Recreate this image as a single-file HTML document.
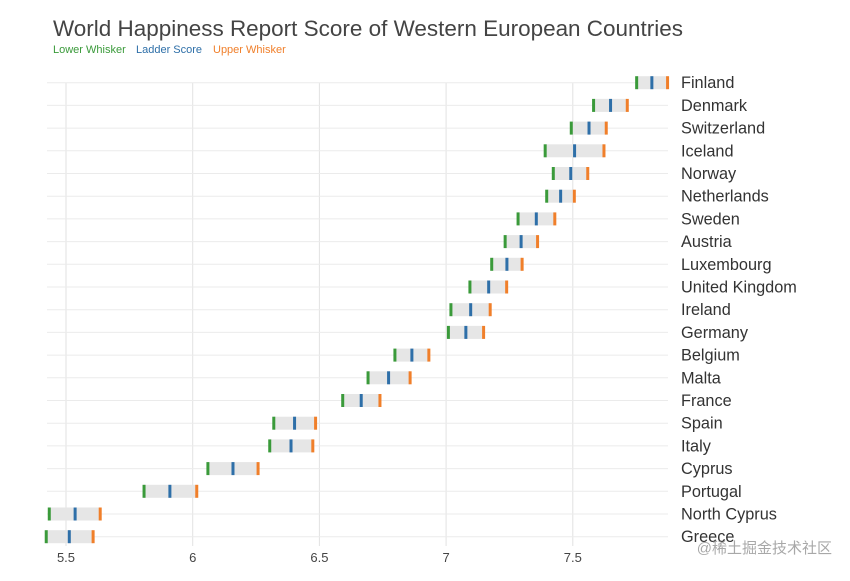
<!DOCTYPE html>
<html><head><meta charset="utf-8"><style>
body{margin:0;background:#fff;width:850px;height:576px;overflow:hidden;font-family:"Liberation Sans","Noto Sans CJK SC",sans-serif;}
</style></head><body>
<svg id="chart" width="850" height="576" xmlns="http://www.w3.org/2000/svg">
<text x="53" y="36" font-size="22" fill="#444" textLength="630" lengthAdjust="spacingAndGlyphs">World Happiness Report Score of Western European Countries</text>
<g font-size="11">
<text x="53" y="53" fill="#3a9a3a">Lower Whisker</text>
<text x="136" y="53" fill="#2e6fa8">Ladder Score</text>
<text x="213" y="53" fill="#f07f2a">Upper Whisker</text>
</g>
<g id="grid"></g>
<g id="marks"></g>
<g id="labels"></g>
<text x="832" y="553" text-anchor="end" font-size="15" fill="#999" opacity="0.85">@稀土掘金技术社区</text>
</svg>
<script>
const countries=["Finland","Denmark","Switzerland","Iceland","Norway","Netherlands","Sweden","Austria","Luxembourg","United Kingdom","Ireland","Germany","Belgium","Malta","France","Spain","Italy","Cyprus","Portugal","North Cyprus","Greece"];
const lower=[7.752,7.582,7.494,7.391,7.423,7.397,7.284,7.233,7.180,7.094,7.019,7.009,6.798,6.692,6.592,6.320,6.304,6.060,5.808,5.434,5.422];
const score=[7.812,7.649,7.564,7.507,7.492,7.452,7.356,7.296,7.240,7.168,7.097,7.078,6.865,6.773,6.665,6.402,6.388,6.159,5.910,5.536,5.513];
const upper=[7.874,7.715,7.632,7.623,7.559,7.506,7.429,7.361,7.300,7.239,7.174,7.148,6.932,6.858,6.739,6.485,6.474,6.258,6.016,5.635,5.607];
const ticks=[5.5,6,6.5,7,7.5];
const tickLabels=["5.5","6","6.5","7","7.5"];
const NS="http://www.w3.org/2000/svg";
const x=v=>66+(v-5.5)*253.4;
const y=i=>82.7+i*22.7;
function mk(t,a,p){const e=document.createElementNS(NS,t);for(const k in a)e.setAttribute(k,a[k]);p.appendChild(e);return e;}
const grid=document.getElementById('grid'),marks=document.getElementById('marks'),labels=document.getElementById('labels');
ticks.forEach((t,i)=>{
 const l=mk('line',{x1:x(t),x2:x(t),y1:y(0),y2:546,stroke:'#e2e2e2','stroke-width':1},grid);
 
 
 const tx=mk('text',{x:x(t),y:562,'text-anchor':'middle','font-size':13,fill:'#444'},labels);
 tx.textContent=tickLabels[i];
 
 
});
countries.forEach((c,i)=>{
 const g=mk('line',{x1:47,x2:668,y1:y(i),y2:y(i),stroke:'#ebebeb','stroke-width':1},grid);
 
 
 const r=mk('rect',{x:x(lower[i]),y:y(i)-6.5,width:x(upper[i])-x(lower[i]),height:13,fill:'#e6e6e6'},marks);
 
 
 const a=mk('rect',{x:x(lower[i])-1.5,y:y(i)-6.5,width:3,height:13,fill:'#3a9a3a'},marks);
 
 
 const b=mk('rect',{x:x(score[i])-1.5,y:y(i)-6.5,width:3,height:13,fill:'#2e6fa8'},marks);
 
 
 const d=mk('rect',{x:x(upper[i])-1.5,y:y(i)-6.5,width:3,height:13,fill:'#f07f2a'},marks);
 
 
 const t=mk('text',{x:681,y:y(i)+5.5,'font-size':16.3,fill:'#333'},labels);
 t.textContent=c;
 
 
});
</script>
</body></html>
